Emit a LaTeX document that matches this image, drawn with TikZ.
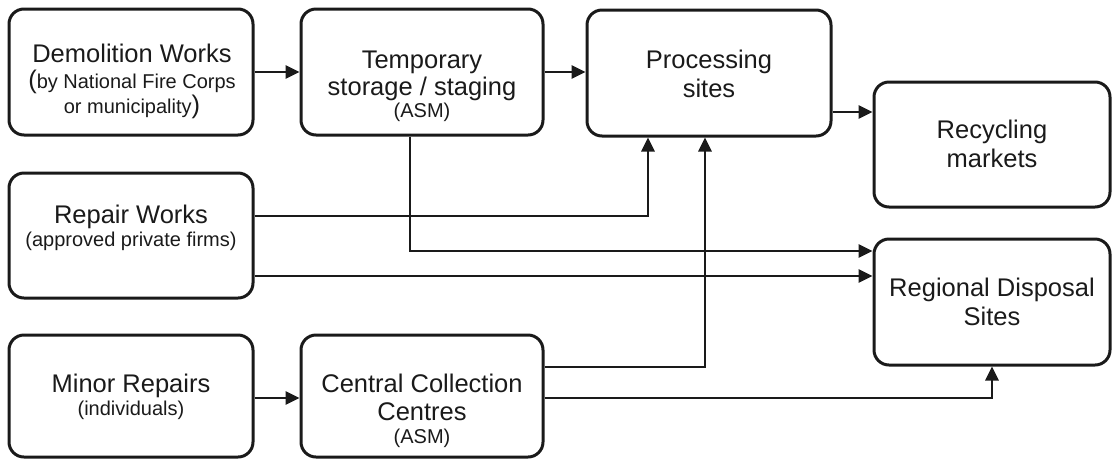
\documentclass[tikz,border=0pt]{standalone}
\usepackage{fontspec}
\setmainfont{Liberation Sans}
\usetikzlibrary{arrows.meta}
\definecolor{ink}{HTML}{1A1A1A}
\tikzset{
  box/.style={draw=ink, line width=3pt, rounded corners=15pt, inner sep=0pt},
  arr/.style={draw=ink, line width=2.8pt, -{Triangle[length=14pt,width=13pt]}},
  big/.style={anchor=base, text=ink, inner sep=0pt, font=\fontsize{25.5}{28}\selectfont},
  sml/.style={anchor=base, text=ink, inner sep=0pt, font=\fontsize{20}{24}\selectfont},
}
\newcommand{\bigpar}[1]{{\fontsize{25.5}{28}\selectfont #1}}
\begin{document}
\begin{tikzpicture}[x=1pt,y=-1pt]
\useasboundingbox (0,0) rectangle (1113,459);
% boxes
\node[box, minimum width=244pt, minimum height=126pt] (demo) at (131,72) {};
\node[box, minimum width=242pt, minimum height=126pt] (temp) at (422,72) {};
\node[box, minimum width=244pt, minimum height=126pt] (proc) at (709,73) {};
\node[box, minimum width=236pt, minimum height=125pt] (recy) at (992,144.5) {};
\node[box, minimum width=244pt, minimum height=125pt] (repair) at (131,235.5) {};
\node[box, minimum width=236pt, minimum height=126pt] (regional) at (992,302) {};
\node[box, minimum width=244pt, minimum height=122pt] (minor) at (131,396) {};
\node[box, minimum width=242pt, minimum height=122pt] (central) at (422,396) {};
% texts
\node[big] (demo1) at (132,62) {Demolition Works};
\node[sml] (demo2) at (132,88) {\bigpar{(}by National Fire Corps};
\node[sml] (demo3) at (132,113) {or municipality\bigpar{)}};
\node[big] (temp1) at (422,68) {Temporary};
\node[big] (temp2) at (422,95) {storage / staging};
\node[sml] (temp3) at (422,117) {(ASM)};
\node[big] (proc1) at (709,68) {Processing};
\node[big] (proc2) at (709,97) {sites};
\node[big] (recy1) at (992,138) {Recycling};
\node[big] (recy2) at (992,167) {markets};
\node[big] (rep1) at (131,223) {Repair Works};
\node[sml] (rep2) at (131,246) {(approved private firms)};
\node[big] (reg1) at (992,296) {Regional Disposal};
\node[big] (reg2) at (992,325) {Sites};
\node[big] (min1) at (131,392) {Minor Repairs};
\node[sml] (min2) at (131,415) {(individuals)};
\node[big] (cen1) at (422,392) {Central Collection};
\node[big] (cen2) at (422,420) {Centres};
\node[sml] (cen3) at (422,443) {(ASM)};
% connectors
\draw[arr] (demo.east) -- (temp.west);
\draw[arr] (temp.east) -- (temp.east -| proc.west);
\draw[arr] ([yshift=-39pt]proc.east) -- ([yshift=-39pt]proc.east -| recy.west);
\draw[arr] ([xshift=-12pt]temp.south) |- ([yshift=51pt]regional.west);
\draw[arr] ([yshift=19.5pt]repair.east) -| ([xshift=-61pt]proc.south);
\draw[arr] ([yshift=-40.5pt]repair.east) -- ([yshift=-40.5pt]repair.east -| regional.west);
\draw[arr] ([yshift=-2pt]minor.east) -- ([yshift=-2pt]central.west);
\draw[arr] ([yshift=29pt]central.east) -| ([xshift=-4pt]proc.south);
\draw[arr] ([yshift=-2pt]central.east) -| (regional.south);
\end{tikzpicture}
\end{document}
